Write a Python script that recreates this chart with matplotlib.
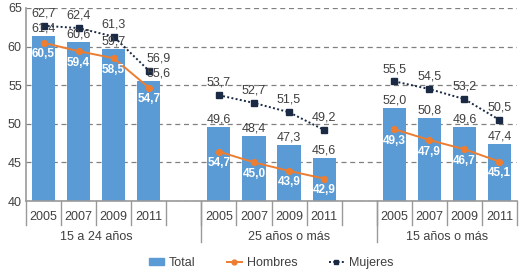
import matplotlib
matplotlib.use('Agg')
import matplotlib.pyplot as plt
from matplotlib.lines import Line2D
from matplotlib.patches import Patch
import matplotlib.transforms as mtransforms

plt.rcParams['font.family'] = ['Liberation Sans', 'DejaVu Sans']

groups = ['15 a 24 años', '25 años o más', '15 años o más']
years = ['2005', '2007', '2009', '2011']

total = [[61.4, 60.6, 59.7, 55.6],
         [49.6, 48.4, 47.3, 45.6],
         [52.0, 50.8, 49.6, 47.4]]
hombres = [[60.5, 59.4, 58.5, 54.7],
           [46.4, 45.0, 43.9, 42.9],
           [49.3, 47.9, 46.7, 45.1]]
# labels as printed in the source (first one of group 2 reads 54,7)
hombres_lbl = [['60,5', '59,4', '58,5', '54,7'],
               ['54,7', '45,0', '43,9', '42,9'],
               ['49,3', '47,9', '46,7', '45,1']]
mujeres = [[62.7, 62.4, 61.3, 56.9],
           [53.7, 52.7, 51.5, 49.2],
           [55.5, 54.5, 53.2, 50.5]]

c_bar = '#5b9bd5'
c_h = '#ed7d31'
c_m = '#1a2a44'
c_txt = '#404040'
c_ax = '#999999'

def fmt(v):
  return '{:.1f}'.format(v).replace('.', ',')

fig = plt.figure(figsize=(5.25, 2.74), dpi=100)
ax = fig.add_axes([26/525, 73/274, 491/525, 193/274])

for g in range(3):
  xs = [g*5 + i for i in range(4)]
  ax.bar(xs, total[g], width=0.66, bottom=0, color=c_bar, zorder=2)
  ax.plot(xs, hombres[g], color=c_h, lw=1.4, marker='o', ms=4.2, zorder=3)
  ax.plot(xs, mujeres[g], color=c_m, lw=1.4, ls=(0, (1, 1.2)), marker='s', ms=4, zorder=3)
  for i, x in enumerate(xs):
    dx = 7 if (g == 0 and i == 3) else 0
    ax.annotate(fmt(total[g][i]), (x, total[g][i]), xytext=(dx, 1), textcoords='offset points',
                ha='center', va='bottom', fontsize=9, color=c_txt, zorder=4)
    ax.annotate(fmt(mujeres[g][i]), (x, mujeres[g][i]), xytext=(dx, 4.5), textcoords='offset points',
                ha='center', va='bottom', fontsize=9, color=c_txt, zorder=4)
    ax.annotate(hombres_lbl[g][i], (x, hombres[g][i]), xytext=(0, -4), textcoords='offset points',
                ha='center', va='top', fontsize=8.5, color='white', fontweight='bold', zorder=4)

ax.set_ylim(40, 65)
ax.set_xlim(-0.5, 13.5)
ax.set_yticks([40, 45, 50, 55, 60, 65])
ax.tick_params(axis='y', length=0, labelsize=9, labelcolor=c_txt, pad=3)
ax.yaxis.grid(True, ls=(0, (4, 3)), color='#808080', lw=0.9, zorder=0)
for s in ['top', 'right']:
  ax.spines[s].set_visible(False)
for s in ['left', 'bottom']:
  ax.spines[s].set_color(c_ax)
  ax.spines[s].set_linewidth(1.2)

xt = [g*5 + i for g in range(3) for i in range(4)]
ax.set_xticks(xt)
ax.set_xticklabels(years * 3)
ax.tick_params(axis='x', length=0, labelsize=9, labelcolor=c_txt, pad=7)

# separators under the axis
trans = mtransforms.blended_transform_factory(ax.transData, ax.transAxes)
px = 1 / 193
for g in range(3):
  for b in range(5):
    x = g*5 + b - 0.5
    ax.plot([x, x], [0, -24*px], color=c_ax, lw=1, transform=trans, clip_on=False)
for x in [4.5, 9.5]:
  ax.plot([x, x], [0, -41*px], color=c_ax, lw=1, transform=trans, clip_on=False)

gx = [1.5, 7.0, 11.5]
for g in range(3):
  ax.text(gx[g], -36*px, groups[g], transform=trans, ha='center', va='center',
          fontsize=9, color=c_txt)

handles = [Patch(color=c_bar),
           Line2D([], [], color=c_h, lw=1.4, marker='o', ms=3.5),
           Line2D([], [], color=c_m, lw=1.4, ls=(0, (1, 1.2)), marker='s', ms=3.5)]
fig.legend(handles, ['Total', 'Hombres', 'Mujeres'], loc='center', bbox_to_anchor=(271/525, 11/274),
           ncol=3, frameon=False, fontsize=9, handlelength=1.2, handleheight=0.5,
           columnspacing=2.5, handletextpad=0.4, labelcolor=c_txt)

fig.savefig('out.png', dpi=100)
